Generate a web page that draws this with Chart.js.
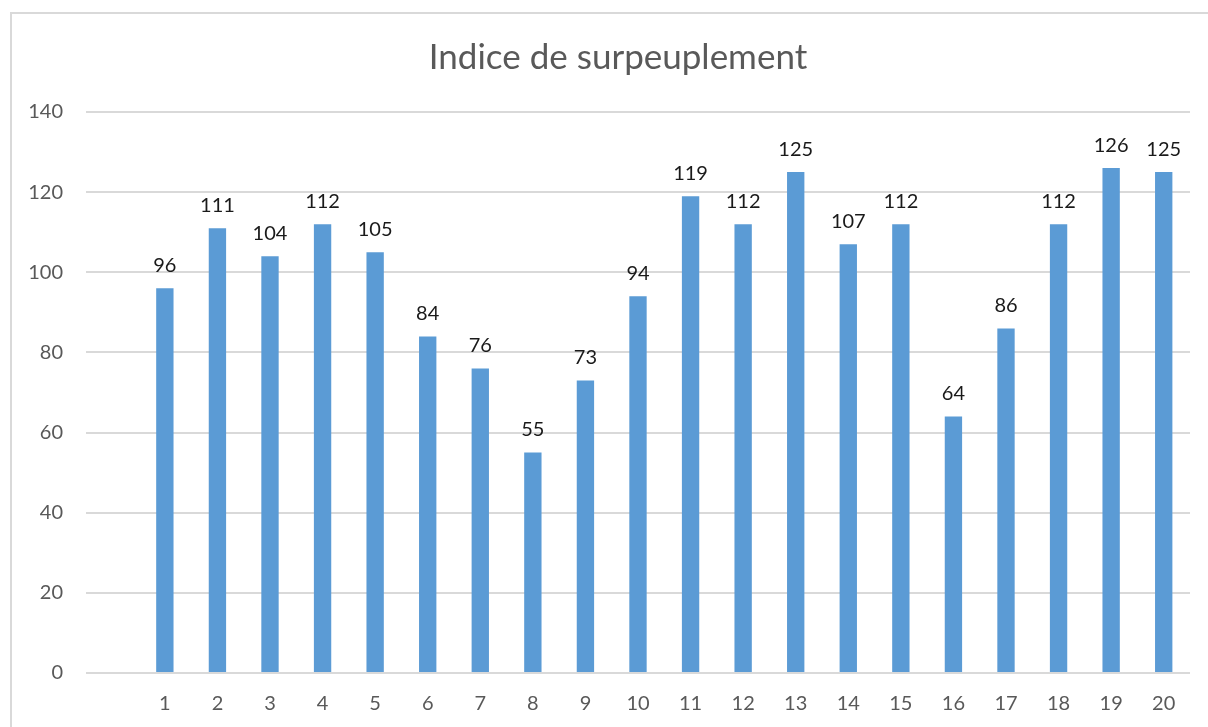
<!DOCTYPE html>
<html>
<head>
<meta charset="utf-8">
<script src="https://cdn.jsdelivr.net/npm/chart.js@4"></script>
<style>
  html, body { margin: 0; padding: 0; background: #fff; overflow: hidden; }
  #frame {
    position: absolute; left: 10px; top: 12px; width: 1220px; height: 740px;
    border: 2px solid #d9d9d9; box-sizing: border-box;
  }
  #wrap { position: absolute; left: 0; top: 0; width: 1208px; height: 727px; }
</style>
</head>
<body>
<div id="frame"></div>
<div id="wrap"><canvas id="chart"></canvas></div>
<script>
// categorie vide en tete, comme dans le classeur d'origine
const categories = ['', '1', '2', '3', '4', '5', '6', '7', '8', '9', '10',
  '11', '12', '13', '14', '15', '16', '17', '18', '19', '20'];
const valeurs = [null, 96, 111, 104, 112, 105, 84, 76, 55, 73, 94,
  119, 112, 125, 107, 112, 64, 86, 112, 126, 125];
const yTicks = [0, 20, 40, 60, 80, 100, 120, 140];

const POLICE = 'Lato, "Open Sans", sans-serif';

// etiquettes de donnees au-dessus des barres
const etiquettes = {
  id: 'etiquettes',
  afterLayout(chart) {
    // les libelles de l'axe Y debordent dans la marge gauche : on elargit la zone de dessin
    chart.scales.y.left = 0;
  },
  afterDatasetsDraw(chart) {
    const ctx = chart.ctx;
    const meta = chart.getDatasetMeta(0);
    ctx.save();
    ctx.font = '20px ' + POLICE;
    ctx.fillStyle = '#1a1a1a';
    ctx.textAlign = 'center';
    ctx.textBaseline = 'middle';
    meta.data.forEach((bar, i) => {
      const v = valeurs[i];
      if (v === null) return;
      ctx.fillText(String(v), bar.x, bar.y - 23);
    });
    ctx.restore();
  }
};

new Chart(document.getElementById('chart'), {
  type: 'bar',
  data: {
    labels: categories,
    datasets: [{
      label: 'Indice',
      data: valeurs,
      backgroundColor: '#5B9BD5',
      borderWidth: 0,
      barPercentage: 0.33,
      categoryPercentage: 1
    }]
  },
  options: {
    responsive: true,
    maintainAspectRatio: false,
    animation: false,
    // decalage a gauche pour centrer le titre comme dans Excel
    layout: { padding: { left: 46, right: 18, top: 0, bottom: 0 } },
    plugins: {
      legend: { display: false },
      tooltip: { enabled: false },
      title: {
        display: true,
        text: 'Indice de surpeuplement',
        color: '#595959',
        font: { family: POLICE, size: 35, weight: 'normal' },
        padding: { top: 37, bottom: 33 }
      }
    },
    scales: {
      y: {
        min: 0,
        max: 140,
        afterBuildTicks(scale) {
          scale.ticks = yTicks.map((v) => ({ value: v }));
        },
        afterFit(scale) { scale.width = 40; },
        border: { display: false },
        grid: { color: '#d9d9d9', lineWidth: 2, drawTicks: false },
        ticks: {
          color: '#595959',
          padding: 23,
          font: { family: POLICE, size: 20 }
        }
      },
      x: {
        afterFit(scale) { scale.height = 54; },
        border: { display: false },
        grid: { display: false, drawTicks: false },
        ticks: {
          color: '#595959',
          padding: 19,
          maxRotation: 0,
          autoSkip: false,
          font: { family: POLICE, size: 20 }
        }
      }
    }
  },
  plugins: [etiquettes]
});
</script>
</body>
</html>
